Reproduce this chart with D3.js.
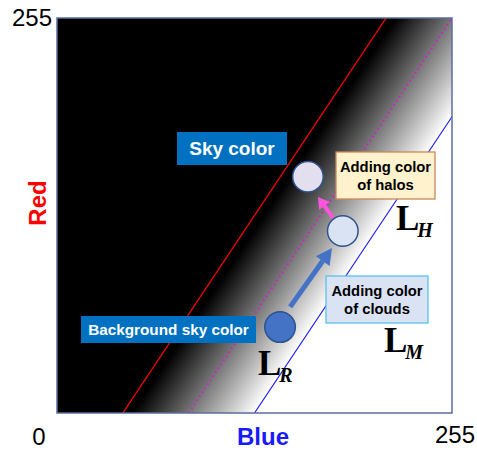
<!DOCTYPE html>
<html>
<head>
<meta charset="utf-8">
<script src="https://cdn.jsdelivr.net/npm/d3@7"></script>
<style>
  body { margin: 0; background: #fff; }
  svg { display: block; }
</style>
</head>
<body>
<svg id="chart"></svg>
<script>
// boundary lines: Blue = offset + Red / 1.5
const lineNames = ["red", "mid", "blue"];
const lineOffsets = [42.5, 85, 127.5];
const lineSlope = 1.5;

// colour points (Blue, Red)
const pointNames = ["background", "clouds", "sky"];
const pointBlue = [144, 184.5, 162];
const pointRed = [55.5, 117.5, 152.5];

// arrows [fromBlue, fromRed, toBlue, toRed]
const arrowBlue = [150.5, 68.5, 177.5, 106.5];
const arrowPink = [178.2, 126, 168.5, 139.5];

const tickLabels = ["0", "255"];

const w = 477, h = 451;
const margin = {top: 18, left: 57, right: 25, bottom: 38};
const font = "Arial, 'Liberation Sans', sans-serif";

const svg = d3.select("#chart").attr("width", w).attr("height", h);

const x = d3.scaleLinear().domain([0, 255]).range([margin.left, w - margin.right]);
const y = d3.scaleLinear().domain([0, 255]).range([h - margin.bottom, margin.top]);

const defs = svg.append("defs");
defs.append("clipPath").attr("id", "plotClip")
  .append("rect")
  .attr("x", x(0)).attr("y", y(255))
  .attr("width", x(255) - x(0)).attr("height", y(0) - y(255));

// gradient runs perpendicular to the lines, from the red line to the blue line
const ax = x(lineOffsets[0]), ay = y(0);
const bx = x(lineOffsets[2]), by = y(0);
let dx = x(lineOffsets[0] + 255 / lineSlope) - ax, dy = y(255) - ay;
let len = Math.hypot(dx, dy);
let nx = dy / len, ny = -dx / len;
if (nx < 0) { nx = -nx; ny = -ny; }
const dist = (bx - ax) * nx + (by - ay) * ny;
const grad = defs.append("linearGradient").attr("id", "band")
  .attr("gradientUnits", "userSpaceOnUse")
  .attr("x1", ax).attr("y1", ay)
  .attr("x2", ax + nx * dist).attr("y2", ay + ny * dist);
grad.append("stop").attr("offset", "0%").attr("stop-color", "#000");
grad.append("stop").attr("offset", "7%").attr("stop-color", "#000");
grad.append("stop").attr("offset", "100%").attr("stop-color", "#fff");

const plot = svg.append("g").attr("clip-path", "url(#plotClip)");
plot.append("rect")
  .attr("x", x(0)).attr("y", y(255))
  .attr("width", x(255) - x(0)).attr("height", y(0) - y(255))
  .attr("fill", "url(#band)");

const lineStyles = {
  red: {stroke: "#ff0000", width: 1.3, dash: null},
  mid: {stroke: "#cc22cc", width: 2, dash: "1.8,3"},
  blue: {stroke: "#1f1fff", width: 1.2, dash: null}
};
const line = d3.line().x(d => x(d[0])).y(d => y(d[1]));
lineOffsets.forEach((off, i) => {
  const st = lineStyles[lineNames[i]];
  plot.append("path")
    .datum([[off, 0], [off + 255 / lineSlope, 255]])
    .attr("d", line)
    .attr("fill", "none")
    .attr("stroke", st.stroke)
    .attr("stroke-width", st.width)
    .attr("stroke-dasharray", st.dash);
});

// frame
svg.append("rect")
  .attr("x", x(0)).attr("y", y(255))
  .attr("width", x(255) - x(0)).attr("height", y(0) - y(255))
  .attr("fill", "none").attr("stroke", "#5a6e9e").attr("stroke-width", 1.5);

// arrows
function arrow(a, color, width, headLen, headW) {
  const x1 = x(a[0]), y1 = y(a[1]), x2 = x(a[2]), y2 = y(a[3]);
  const ang = Math.atan2(y2 - y1, x2 - x1);
  const bxp = x2 - headLen * Math.cos(ang), byp = y2 - headLen * Math.sin(ang);
  svg.append("line")
    .attr("x1", x1).attr("y1", y1).attr("x2", bxp).attr("y2", byp)
    .attr("stroke", color).attr("stroke-width", width);
  const px = -Math.sin(ang) * headW / 2, py = Math.cos(ang) * headW / 2;
  svg.append("path")
    .attr("d", `M${x2},${y2}L${bxp + px},${byp + py}L${bxp - px},${byp - py}Z`)
    .attr("fill", color);
}
arrow(arrowBlue, "#4472c4", 5, 16, 17);
arrow(arrowPink, "#ff55dd", 4, 11, 13);

// circles
const pointFill = {background: "#4472c4", clouds: "#dae3f3", sky: "#e4dfee"};
svg.selectAll(".pt")
  .data(pointNames)
  .join("circle")
  .attr("class", "pt")
  .attr("cx", (d, i) => x(pointBlue[i]))
  .attr("cy", (d, i) => y(pointRed[i]))
  .attr("r", 15.3)
  .attr("fill", d => pointFill[d])
  .attr("stroke", "#2f528f")
  .attr("stroke-width", 1.5);

// label boxes
function box(bx0, by0, bw, bh, fill, stroke, lines, color, size) {
  svg.append("rect")
    .attr("x", bx0).attr("y", by0).attr("width", bw).attr("height", bh)
    .attr("fill", fill).attr("stroke", stroke).attr("stroke-width", stroke ? 1.3 : 0);
  const t = svg.append("text")
    .attr("text-anchor", "middle")
    .attr("font-family", font).attr("font-weight", "bold")
    .attr("font-size", size).attr("fill", color);
  const lh = size * 1.2;
  const startY = by0 + bh / 2 - (lines.length - 1) * lh / 2 + size * 0.36;
  lines.forEach((s, i) => {
    t.append("tspan").attr("x", bx0 + bw / 2).attr("y", startY + i * lh).text(s);
  });
}
box(177, 132, 110, 33, "#0070c0", null, ["Sky color"], "#fff", 19);
box(81, 316, 175, 27, "#0070c0", null, ["Background sky color"], "#fff", 15.3);
box(336, 152, 99, 47, "#fff2cc", "#c8875a", ["Adding color", "of halos"], "#000", 14.8);
box(326, 276, 102, 47, "#dae3f3", "#5bc0eb", ["Adding color", "of clouds"], "#000", 14.8);

// L labels, subscript tucked against the foot of the L
function lLabel(lx, ly, sub) {
  const t = svg.append("text")
    .attr("x", lx).attr("y", ly)
    .attr("font-family", "'Liberation Serif', 'Times New Roman', serif")
    .attr("font-weight", "bold").attr("font-size", 35).attr("fill", "#000");
  t.append("tspan").text("L");
  t.append("tspan").attr("dx", -2).attr("dy", 7)
    .attr("font-style", "italic").attr("font-size", 20).text(sub);
}
lLabel(396, 230, "H");
lLabel(384, 352, "M");
lLabel(258, 375, "R");

// tick labels
svg.append("text").attr("x", 52).attr("y", 26).attr("text-anchor", "end")
  .attr("font-family", font).attr("font-size", 24).text(tickLabels[1]);
svg.append("text").attr("x", 39).attr("y", 445).attr("text-anchor", "middle")
  .attr("font-family", font).attr("font-size", 24).text(tickLabels[0]);
svg.append("text").attr("x", 475).attr("y", 443).attr("text-anchor", "end")
  .attr("font-family", font).attr("font-size", 24).text(tickLabels[1]);

// axis titles
svg.append("text").attr("x", 263).attr("y", 445).attr("text-anchor", "middle")
  .attr("font-family", font).attr("font-weight", "bold").attr("font-size", 24)
  .attr("fill", "#1a1aff").text("Blue");
svg.append("text")
  .attr("transform", "translate(46,203) rotate(-90)")
  .attr("text-anchor", "middle")
  .attr("font-family", font).attr("font-weight", "bold").attr("font-size", 24)
  .attr("fill", "#ff0000").text("Red");
</script>
</body>
</html>
